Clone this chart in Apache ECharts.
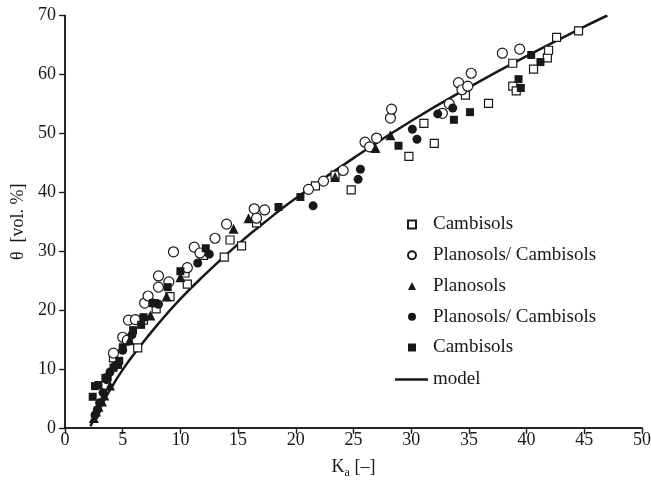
<!DOCTYPE html>
<html>
<head>
<meta charset="utf-8">
<script src="https://cdn.jsdelivr.net/npm/echarts@6/dist/echarts.min.js"></script>
<style>
  html, body { margin: 0; padding: 0; background: #fff; }
  #main { width: 651px; height: 480px; }
</style>
</head>
<body>
<div id="main"></div>
<script>
// data: [Ka, theta]
const cambisolsOpen = [
  [4.2, 11.9], [6.3, 13.6], [6.8, 18.3], [7.9, 20.2], [9.1, 22.3], [10.4, 26.3],
  [10.6, 24.4], [12.0, 29.3], [13.8, 29.0], [14.3, 31.9], [15.3, 30.9], [16.6, 34.8],
  [21.7, 41.1], [23.4, 42.9], [24.8, 40.4], [29.8, 46.1], [31.1, 51.7], [32.0, 48.3],
  [34.7, 56.5], [36.7, 55.1], [38.8, 61.9], [38.8, 58.0], [39.1, 57.2], [40.6, 60.9],
  [41.8, 62.8], [41.9, 64.1], [42.6, 66.3], [44.5, 67.4]
];
const planoCambiOpen = [
  [4.2, 12.7], [5.0, 15.4], [5.4, 14.9], [5.5, 18.3], [6.1, 18.4], [6.9, 21.2],
  [7.2, 22.4], [8.1, 23.9], [8.1, 25.8], [9.0, 24.8], [9.4, 29.9], [10.6, 27.2],
  [11.2, 30.7], [11.7, 29.7], [13.0, 32.2], [14.0, 34.6], [16.4, 37.2], [16.6, 35.6],
  [17.3, 37.0], [21.1, 40.5], [22.4, 41.9], [24.1, 43.7], [26.0, 48.5], [26.4, 47.7],
  [27.0, 49.2], [28.2, 52.6], [28.3, 54.1], [32.7, 53.4], [33.3, 55.0], [34.1, 58.6],
  [34.4, 57.4], [34.9, 58.0], [35.2, 60.2], [37.9, 63.6], [39.4, 64.3]
];
const planosols = [
  [2.5, 1.7], [2.7, 2.8], [2.9, 3.6], [3.2, 4.5], [3.4, 5.5], [3.9, 7.2], [5.6, 14.9],
  [7.4, 19.1], [8.8, 22.3], [10.0, 25.6], [14.6, 33.8], [15.9, 35.6], [23.4, 42.6],
  [26.9, 47.5], [28.2, 49.7]
];
const planoCambiFilled = [
  [2.6, 2.2], [2.8, 3.1], [3.0, 4.3], [3.3, 6.0], [3.6, 8.2], [3.9, 9.5], [4.3, 10.5],
  [5.0, 13.2], [5.8, 15.8], [7.6, 21.2], [8.1, 21.0], [11.5, 28.0], [12.5, 29.5],
  [21.5, 37.7], [25.4, 42.2], [25.6, 43.9], [30.1, 50.7], [30.5, 49.0], [32.3, 53.3],
  [33.6, 54.3]
];
const cambisolsFilled = [
  [2.4, 5.3], [2.6, 7.1], [2.9, 7.3], [3.5, 8.5], [3.7, 8.6], [4.2, 10.2], [4.6, 10.7],
  [4.7, 11.4], [5.0, 13.7], [5.9, 16.6], [6.6, 17.5], [6.8, 18.8], [7.6, 21.2],
  [7.8, 21.2], [8.9, 23.9], [10.0, 26.6], [12.2, 30.5], [18.5, 37.5], [20.4, 39.2],
  [28.9, 47.9], [33.7, 52.3], [35.1, 53.6], [39.3, 59.2], [39.5, 57.7], [40.4, 63.3],
  [41.2, 62.1]
];
const modelLine = [
  [2.2, 0.3], [3, 3.3], [4, 6.8], [5, 9.9], [6, 12.6], [8, 17.5], [10, 21.9],
  [12, 25.8], [15, 31.2], [18, 36.0], [20, 39.0], [25, 45.8], [30, 52.1],
  [35, 57.8], [40, 63.1], [45, 68.1], [47, 70]
];
const legendLabels = {
  c1: "Cambisols",
  pc1: "Planosols/ Cambisols",
  p: "Planosols",
  pc2: "Planosols/ Cambisols",
  c2: "Cambisols",
  model: "model"
};

const font = "'Liberation Serif', 'Times New Roman', serif";
const ink = "#1a1718";

var myChart = echarts.init(document.getElementById("main"));

const frame = { show: true, lineStyle: { color: ink, width: 1.5 } };
const legendText = { fontFamily: font, fontSize: 19, color: ink };

myChart.setOption({
  animation: false,
  grid: { left: 65, right: 9, top: 15.5, bottom: 52, outerBoundsMode: "none" },
  legend: [
    {
      orient: "vertical",
      left: 402,
      top: 210,
      itemWidth: 8,
      itemHeight: 8,
      itemGap: 11.75,
      data: [
        { name: "c1", icon: "rect" },
        { name: "pc1", icon: "circle" },
        { name: "p", icon: "triangle" },
        { name: "pc2", icon: "circle" },
        { name: "c2", icon: "rect" }
      ],
      formatter: (name) => legendLabels[name],
      textStyle: Object.assign({ padding: [0, 0, 0, 12] }, legendText)
    },
    {
      left: 390,
      top: 365,
      itemWidth: 33,
      itemHeight: 2.5,
      data: [{ name: "model", icon: "rect" }],
      formatter: (name) => legendLabels[name],
      textStyle: legendText
    }
  ],
  xAxis: [
    {
      type: "value", min: 0, max: 50, interval: 5,
      axisLine: frame,
      axisTick: { show: true, length: 6, lineStyle: { color: ink, width: 1.2 } },
      axisLabel: { fontFamily: font, fontSize: 18, color: ink, margin: 3 },
      splitLine: { show: false },
      name: "K{sub|a} [–]",
      nameLocation: "middle",
      nameGap: 27,
      nameTextStyle: {
        fontFamily: font, fontSize: 18, color: ink,
        rich: { sub: { fontFamily: font, fontSize: 12, color: ink, verticalAlign: "bottom", padding: [12, 0, 0, 0] } }
      }
    },
    {
      type: "value", min: 0, max: 50, interval: 5, position: "top",
      axisLine: frame,
      axisTick: { show: true, inside: true, length: 5, lineStyle: { color: ink, width: 1.2 } },
      axisLabel: { show: false },
      splitLine: { show: false }
    }
  ],
  yAxis: [
    {
      type: "value", min: 0, max: 70, interval: 10,
      axisLine: frame,
      axisTick: { show: true, length: 6, lineStyle: { color: ink, width: 1.2 } },
      axisLabel: { fontFamily: font, fontSize: 18, color: ink, margin: 9 },
      splitLine: { show: false },
      name: "θ  [vol. %]",
      nameLocation: "middle",
      nameGap: 29,
      nameTextStyle: { fontFamily: font, fontSize: 18, color: ink }
    },
    {
      type: "value", min: 0, max: 70, interval: 10, position: "right",
      axisLine: frame,
      axisTick: { show: true, inside: true, length: 5, lineStyle: { color: ink, width: 1.2 } },
      axisLabel: { show: false },
      splitLine: { show: false }
    }
  ],
  series: [
    {
      name: "model", type: "line", data: modelLine, symbol: "none", smooth: true,
      lineStyle: { color: ink, width: 2.5 }, itemStyle: { color: ink }, z: 1
    },
    {
      name: "c1", type: "scatter", data: cambisolsOpen, symbol: "rect", symbolSize: 8,
      itemStyle: { color: "#fff", borderColor: ink, borderWidth: 1.2, opacity: 1 }, z: 3
    },
    {
      name: "pc1", type: "scatter", data: planoCambiOpen, symbol: "circle", symbolSize: 10,
      itemStyle: { color: "#fff", borderColor: ink, borderWidth: 1.2, opacity: 1 }, z: 3
    },
    {
      name: "p", type: "scatter", data: planosols, symbol: "triangle", symbolSize: 10,
      itemStyle: { color: ink, opacity: 1 }, z: 4
    },
    {
      name: "pc2", type: "scatter", data: planoCambiFilled, symbol: "circle", symbolSize: 9,
      itemStyle: { color: ink, opacity: 1 }, z: 4
    },
    {
      name: "c2", type: "scatter", data: cambisolsFilled, symbol: "rect", symbolSize: 8,
      itemStyle: { color: ink, opacity: 1 }, z: 4
    }
  ]
});
</script>
</body>
</html>
